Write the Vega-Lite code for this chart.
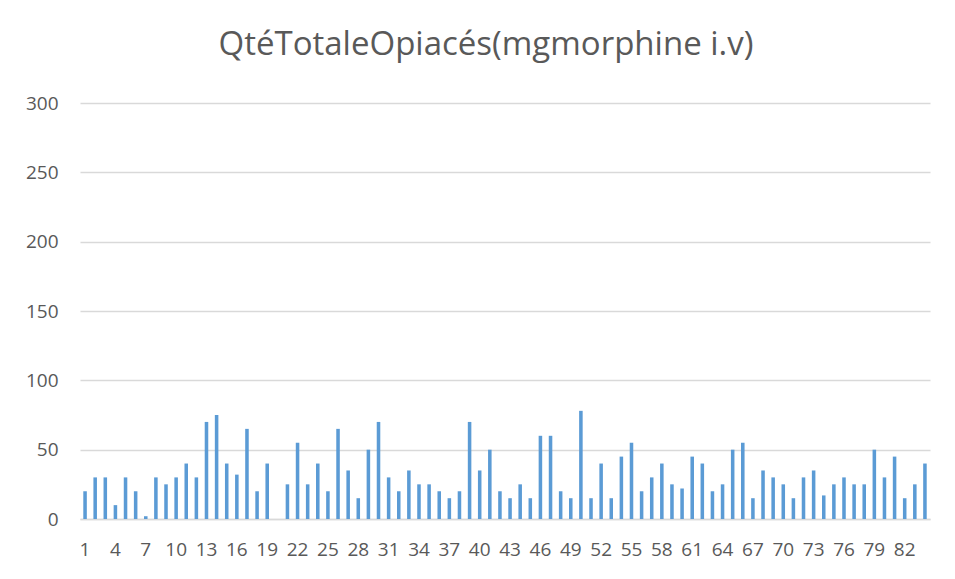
{
  "$schema": "https://vega.github.io/schema/vega-lite/v6.json",
  "width": 850,
  "height": 416,
  "autosize": "none",
  "padding": {"left": 80, "top": 103, "right": 25, "bottom": 60},
  "background": "white",
  "title": {
    "text": "QtéTotaleOpiacés(mgmorphine i.v)",
    "font": "Open Sans",
    "fontSize": 33,
    "fontWeight": "normal",
    "color": "#595959",
    "anchor": "middle",
    "dx": -19,
    "offset": 32
  },
  "data": {
    "values": [
      {"n": 1, "v": 20}, {"n": 2, "v": 30}, {"n": 3, "v": 30}, {"n": 4, "v": 10},
      {"n": 5, "v": 30}, {"n": 6, "v": 20}, {"n": 7, "v": 2}, {"n": 8, "v": 30},
      {"n": 9, "v": 25}, {"n": 10, "v": 30}, {"n": 11, "v": 40}, {"n": 12, "v": 30},
      {"n": 13, "v": 70}, {"n": 14, "v": 75}, {"n": 15, "v": 40}, {"n": 16, "v": 32},
      {"n": 17, "v": 65}, {"n": 18, "v": 20}, {"n": 19, "v": 40}, {"n": 20, "v": 0},
      {"n": 21, "v": 25}, {"n": 22, "v": 55}, {"n": 23, "v": 25}, {"n": 24, "v": 40},
      {"n": 25, "v": 20}, {"n": 26, "v": 65}, {"n": 27, "v": 35}, {"n": 28, "v": 15},
      {"n": 29, "v": 50}, {"n": 30, "v": 70}, {"n": 31, "v": 30}, {"n": 32, "v": 20},
      {"n": 33, "v": 35}, {"n": 34, "v": 25}, {"n": 35, "v": 25}, {"n": 36, "v": 20},
      {"n": 37, "v": 15}, {"n": 38, "v": 20}, {"n": 39, "v": 70}, {"n": 40, "v": 35},
      {"n": 41, "v": 50}, {"n": 42, "v": 20}, {"n": 43, "v": 15}, {"n": 44, "v": 25},
      {"n": 45, "v": 15}, {"n": 46, "v": 60}, {"n": 47, "v": 60}, {"n": 48, "v": 20},
      {"n": 49, "v": 15}, {"n": 50, "v": 78}, {"n": 51, "v": 15}, {"n": 52, "v": 40},
      {"n": 53, "v": 15}, {"n": 54, "v": 45}, {"n": 55, "v": 55}, {"n": 56, "v": 20},
      {"n": 57, "v": 30}, {"n": 58, "v": 40}, {"n": 59, "v": 25}, {"n": 60, "v": 22},
      {"n": 61, "v": 45}, {"n": 62, "v": 40}, {"n": 63, "v": 20}, {"n": 64, "v": 25},
      {"n": 65, "v": 50}, {"n": 66, "v": 55}, {"n": 67, "v": 15}, {"n": 68, "v": 35},
      {"n": 69, "v": 30}, {"n": 70, "v": 25}, {"n": 71, "v": 15}, {"n": 72, "v": 30},
      {"n": 73, "v": 35}, {"n": 74, "v": 17}, {"n": 75, "v": 25}, {"n": 76, "v": 30},
      {"n": 77, "v": 25}, {"n": 78, "v": 25}, {"n": 79, "v": 50}, {"n": 80, "v": 30},
      {"n": 81, "v": 45}, {"n": 82, "v": 15}, {"n": 83, "v": 25}, {"n": 84, "v": 40}
    ]
  },
  "mark": {"type": "bar", "color": "#5B9BD5", "width": {"band": 0.35}},
  "encoding": {
    "x": {
      "field": "n",
      "type": "ordinal",
      "scale": {"paddingInner": 0, "paddingOuter": 0},
      "axis": {
        "title": null,
        "values": [1,4,7,10,13,16,19,22,25,28,31,34,37,40,43,46,49,52,55,58,61,64,67,70,73,76,79,82],
        "labelAngle": 0,
        "labelFont": "Open Sans",
        "labelFontSize": 19,
        "labelColor": "#595959",
        "labelPadding": 21,
        "ticks": false,
        "domainColor": "#D9D9D9",
        "domainWidth": 1.5,
        "grid": false
      }
    },
    "y": {
      "field": "v",
      "type": "quantitative",
      "scale": {"domain": [0, 300], "nice": false},
      "axis": {
        "title": null,
        "values": [0, 50, 100, 150, 200, 250, 300],
        "labelFont": "Open Sans",
        "labelFontSize": 19,
        "labelColor": "#595959",
        "labelPadding": 22,
        "ticks": false,
        "domain": false,
        "gridColor": "#D9D9D9",
        "gridWidth": 1.5
      }
    }
  },
  "config": {"view": {"stroke": null}}
}
